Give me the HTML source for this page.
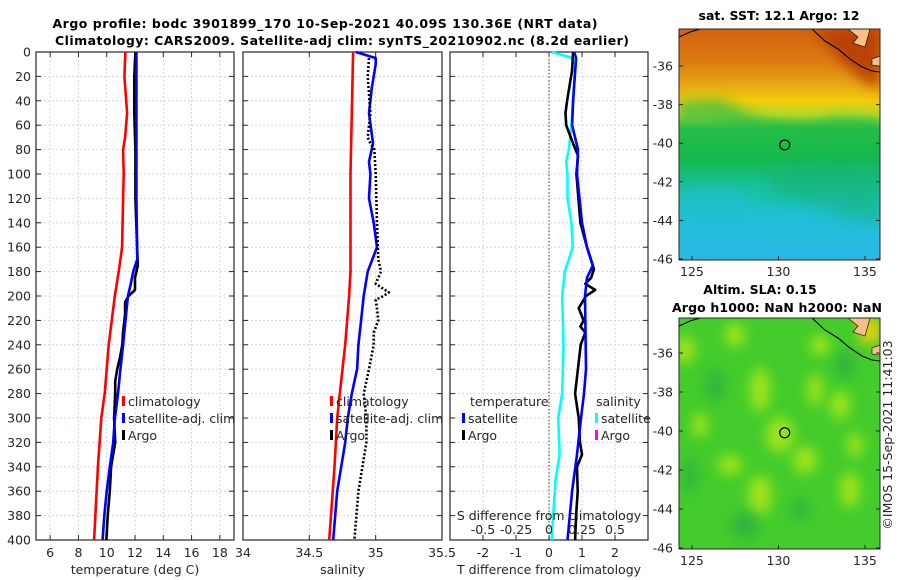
<!DOCTYPE html>
<html><head><meta charset="utf-8"><style>
html,body{margin:0;padding:0;background:#fff;width:900px;height:580px;overflow:hidden}
svg text{font-family:"DejaVu Sans","Liberation Sans",sans-serif;fill:#262626}
.b{font-weight:bold;fill:#000}
</style></head><body>
<svg id="fig" width="900" height="580" viewBox="0 0 900 580" xmlns="http://www.w3.org/2000/svg">
<defs>
<linearGradient id="sstg" x1="0" y1="0" x2="0" y2="1">
<stop offset="0" stop-color="#d06210"/><stop offset="0.14" stop-color="#dc7a12"/>
<stop offset="0.24" stop-color="#e8a814"/><stop offset="0.31" stop-color="#f2cc0a"/>
<stop offset="0.37" stop-color="#b8d828"/><stop offset="0.43" stop-color="#28c048"/>
<stop offset="0.56" stop-color="#14b84c"/><stop offset="0.68" stop-color="#18c098"/>
<stop offset="0.82" stop-color="#1cc4cc"/><stop offset="1" stop-color="#30b4ec"/>
</linearGradient>
<filter id="blur6" x="-100%" y="-100%" width="300%" height="300%"><feGaussianBlur stdDeviation="6"/></filter>
<clipPath id="cm1"><rect x="679" y="29" width="201" height="231"/></clipPath>
<clipPath id="cm2"><rect x="679" y="318" width="201" height="231"/></clipPath>
</defs>
<g id="titles">
<text class="b" x="325" y="28" font-size="12.5" text-anchor="middle" textLength="545">Argo profile: bodc 3901899_170 10-Sep-2021 40.09S 130.36E (NRT data)</text>
<text class="b" x="342" y="45" font-size="12.5" text-anchor="middle" textLength="574">Climatology: CARS2009. Satellite-adj clim: synTS_20210902.nc (8.2d earlier)</text>
<text class="b" x="779" y="20" font-size="12.5" text-anchor="middle">sat. SST: 12.1 Argo: 12</text>
<text class="b" x="760" y="294" font-size="12.5" text-anchor="middle">Altim. SLA: 0.15</text>
<text class="b" x="777" y="312" font-size="12.5" text-anchor="middle" textLength="210">Argo h1000: NaN h2000: NaN</text>
<text font-size="12.5" transform="translate(892,435) rotate(-90)" text-anchor="middle">©IMOS 15-Sep-2021 11:41:03</text>
</g>
<g id="panels"></g>
<g id="maps"></g>
</svg>
<script>
// ---- data ----
const tClimDepth=[0,20,50,70,80,100,120,160,180,200,240,280,300,340,400];
const tClimVal=[11.32,11.25,11.44,11.3,11.16,11.2,11.16,11.09,10.85,10.57,10.14,9.86,9.62,9.38,9.11];
const tSatDepth=[0,120,170,180,190,200,220,240,260,280,300,320,340,360,380,400];
const tSatVal=[12.1,12.1,12.16,11.87,11.7,11.5,11.33,11.16,10.97,10.8,10.58,10.46,10.22,10.0,9.83,9.71];
const tArgoDepth=[0,20,50,80,120,175,185,195,200,205,215,230,240,250,260,270,280,300,320,340,360,380,400];
const tArgoVal=[12.03,11.95,11.95,12.03,12.03,12.2,12.0,12.0,11.55,11.3,11.3,11.15,11.1,10.95,10.74,10.6,10.6,10.52,10.6,10.31,10.22,10.07,9.98];
const sClimDepth=[0,100,180,200,240,280,300,340,400];
const sClimVal=[34.83,34.81,34.81,34.80,34.77,34.73,34.71,34.69,34.65];
const sSatDepth=[0,5,10,30,50,75,90,100,120,140,160,180,200,220,240,260,280,300,320,340,360,400];
const sSatVal=[34.85,35.0,35.0,34.97,34.95,34.98,34.95,34.96,34.95,34.985,35.01,34.94,34.91,34.89,34.87,34.86,34.82,34.79,34.77,34.74,34.71,34.68];
const sArgoDepth=[5,20,50,60,70,75,80,100,140,170,180,190,195,197,200,203,210,220,230,240,260,280,300,320,340,360,380,400];
const sArgoVal=[34.95,34.94,34.96,34.95,34.94,34.96,34.99,35.0,35.01,35.02,35.04,35.0,35.07,35.1,35.06,35.0,35.01,35.02,34.985,34.985,34.95,34.91,34.93,34.93,34.90,34.87,34.855,34.84];
const dTSatDepth=[0,5,40,60,80,100,140,160,175,185,200,260,280,300,330,360,400];
const dTSatVal=[0.76,0.82,0.73,0.7,0.88,0.85,1.0,1.15,1.33,1.15,1.09,1.12,1.06,0.97,0.85,0.7,0.56];
const dTArgoDepth=[0,15,40,50,60,75,85,100,140,160,178,185,190,195,200,210,220,225,230,240,280,300,320,330,340,360,380,400];
const dTArgoVal=[0.73,0.7,0.55,0.5,0.52,0.73,0.88,0.83,0.95,1.15,1.36,1.28,1.1,1.4,1.12,0.9,1.05,0.95,1.1,0.96,0.79,0.9,0.94,1.0,0.85,0.87,0.82,0.79];
const dSSatDepth=[0,5,10,60,80,90,100,120,140,160,170,180,200,240,280,300,330,350,400];
const dSSatVal=[0.02,0.18,0.2,0.17,0.15,0.13,0.14,0.14,0.17,0.18,0.15,0.12,0.1,0.11,0.1,0.07,0.08,0.05,0.02];
const depthTicks=[0,20,40,60,80,100,120,140,160,180,200,220,240,260,280,300,320,340,360,380,400];
const tTicks=[6,8,10,12,14,16,18];
const sTicks=[34,34.5,35,35.5];
const sTickLabels=["34","34.5","35","35.5"];
const dTTicks=[-2,-1,0,1,2];
const dSTicks=[-0.5,-0.25,0,0.25,0.5];
const dSTickLabels=["-0.5","-0.25","0","0.25","0.5"];
const latTicks=[-36,-38,-40,-42,-44,-46];
const lonTicks=[125,130,135];
const argoLon=130.36, argoLat=-40.09;

// ---- scales ----
const Y0=52,Y1=540;
const yD=d=>Y0+d*(Y1-Y0)/400;
const P1={x0:36,x1:234,lo:5,hi:19}, P2={x0:243,x1:442,lo:34,hi:35.5}, P3={x0:450,x1:648,lo:-3,hi:3};
const sc=(p,v)=>p.x0+(v-p.lo)*(p.x1-p.x0)/(p.hi-p.lo);
const xT=v=>sc(P1,v), xS=v=>sc(P2,v), xDT=v=>sc(P3,v), xDS=v=>sc(P3,v*4);
const NS="http://www.w3.org/2000/svg";
function mk(parent,tag,attrs){const e=document.createElementNS(NS,tag);for(const k in attrs)e.setAttribute(k,attrs[k]);parent.appendChild(e);return e;}
const G=document.getElementById('panels');

function panel(p,name,xticks,xlabels,xfn,xtitle,showY){
  const g=mk(G,'g',{});
  
  
  xticks.forEach((t,i)=>{const x=xfn(t);
    const gl=mk(g,'line',{x1:x,x2:x,y1:Y0,y2:Y1,stroke:'#c8cce8','stroke-width':0.8,'stroke-dasharray':'2 2'});
    
    
    mk(g,'line',{x1:x,x2:x,y1:Y1,y2:Y1-5,stroke:'#262626','stroke-width':1});
    mk(g,'line',{x1:x,x2:x,y1:Y0,y2:Y0+5,stroke:'#262626','stroke-width':1});
    const tx=mk(g,'text',{x:x,y:Y1+17,'font-size':12.5,'text-anchor':'middle'});tx.textContent=xlabels[i];
    
    
  });
  depthTicks.forEach(d=>{const y=yD(d);
    const gl=mk(g,'line',{x1:p.x0,x2:p.x1,y1:y,y2:y,stroke:'#c8cce8','stroke-width':0.8,'stroke-dasharray':'2 2'});
    
    
    mk(g,'line',{x1:p.x0,x2:p.x0+5,y1:y,y2:y,stroke:'#262626'});
    mk(g,'line',{x1:p.x1,x2:p.x1-5,y1:y,y2:y,stroke:'#262626'});
    if(showY){const tx=mk(g,'text',{x:p.x0-5,y:y+4.5,'font-size':12.5,'text-anchor':'end'});tx.textContent=d;
      
      }
  });
  const fr=mk(g,'rect',{x:p.x0,y:Y0,width:p.x1-p.x0,height:Y1-Y0,fill:'none',stroke:'#262626','stroke-width':1.2});
  
  
  const xt=mk(g,'text',{x:(p.x0+p.x1)/2,y:Y1+34,'font-size':12.5,'text-anchor':'middle'});xt.textContent=xtitle;
  
  
  return g;
}
function line(g,depths,vals,xfn,color,name,dash){
  const pts=depths.map((d,i)=>xfn(vals[i]).toFixed(1)+','+yD(d).toFixed(1)).join(' ');
  const a={points:pts,fill:'none',stroke:color,'stroke-width':2.6,'stroke-linejoin':'round'};
  if(dash)a['stroke-dasharray']=dash;
  const e=mk(g,'polyline',a);
  
  
}
function legend(g,x,y,color,label,name){
  mk(g,'rect',{x:x-3,y:y-10,width:3,height:10,fill:color});
  const t=mk(g,'text',{x:x+3,y:y,'font-size':12.5});t.textContent=label;
  
  
}
const g1=panel(P1,'temperature-panel',tTicks,tTicks.map(String),xT,'temperature (deg C)',true);
line(g1,tClimDepth,tClimVal,xT,'#ff0000','temperature-climatology-line');
line(g1,tArgoDepth,tArgoVal,xT,'#000000','temperature-argo-line');
line(g1,tSatDepth,tSatVal,xT,'#0000ff','temperature-satellite-line');
legend(g1,125,406,'#ff0000','climatology','legend-climatology');
legend(g1,125,423,'#0000ff','satellite-adj. clim','legend-satellite');
legend(g1,125,440,'#000000','Argo','legend-argo');

const g2=panel(P2,'salinity-panel',sTicks,sTickLabels,xS,'salinity',false);
line(g2,sClimDepth,sClimVal,xS,'#ff0000','salinity-climatology-line');
line(g2,sSatDepth,sSatVal,xS,'#0000ff','salinity-satellite-line');
line(g2,sArgoDepth,sArgoVal,xS,'#000000','salinity-argo-line','2 2');
legend(g2,333,406,'#ff0000','climatology','legend-climatology');
legend(g2,333,423,'#0000ff','satellite-adj. clim','legend-satellite');
legend(g2,333,440,'#000000','Argo','legend-argo');

const g3=panel(P3,'difference-panel',dTTicks,dTTicks.map(String),xDT,'T difference from climatology',false);
mk(g3,'line',{x1:xDT(0),x2:xDT(0),y1:Y0,y2:Y1,stroke:'#556b2f','stroke-width':1.2,'stroke-dasharray':'1.5 2'});
line(g3,dSSatDepth,dSSatVal,xDS,'#00ffff','salinity-diff-satellite-line');
line(g3,dTArgoDepth,dTArgoVal,xDT,'#000000','temperature-diff-argo-line');
line(g3,dTSatDepth,dTSatVal,xDT,'#0000ff','temperature-diff-satellite-line');
{const t=mk(g3,'text',{x:470,y:406,'font-size':12.5});t.textContent='temperature';
 
 
 const s=mk(g3,'text',{x:596,y:406,'font-size':12.5});s.textContent='salinity';
 
 }
legend(g3,465,423,'#0000ff','satellite','legend-t-satellite');
legend(g3,465,440,'#000000','Argo','legend-t-argo');
legend(g3,598,423,'#00ffff','satellite','legend-s-satellite');
legend(g3,598,440,'#ff00ff','Argo','legend-s-argo');
{const t=mk(g3,'text',{x:549,y:520,'font-size':12.5,'text-anchor':'middle'});t.textContent='S difference from climatology';
 
 
 dSTicks.forEach((v,i)=>{const x=xDS(v);
  mk(g3,'line',{x1:x,x2:x,y1:Y1,y2:Y1-4,stroke:'#262626'});
  const tx=mk(g3,'text',{x:x,y:534,'font-size':12.5,'text-anchor':'middle'});tx.textContent=dSTickLabels[i];
  
  });}

// ---- maps ----
const M=document.getElementById('maps');
const lonX=lon=>679+(lon-124.25)*17.3;
function map(top,h,yfn,name,kind,clip){
  const g=mk(M,'g',{});
  
  
  const inner=mk(g,'g',{'clip-path':'url(#'+clip+')'});
  if(kind==='sst'){
    mk(inner,'rect',{x:679,y:29,width:201,height:231,fill:'url(#sstg)'});
    mk(inner,'polygon',{points:'815,29 880,29 880,90 860,80 840,60',fill:'#b03204',opacity:0.75,filter:'url(#blur6)'});
    mk(inner,'polygon',{points:'679,100 720,98 760,118 800,126 840,116 880,120 880,140 820,142 760,132 700,122 679,124',fill:'#20b848',opacity:0.6,filter:'url(#blur6)'});
    mk(inner,'polygon',{points:'679,190 730,185 760,210 800,205 840,195 880,205 880,260 679,260',fill:'#28bce0',opacity:0.5,filter:'url(#blur6)'});
    mk(inner,'polygon',{points:'770,170 820,165 880,170 880,225 840,215 800,200 775,195',fill:'#18b070',opacity:0.5,filter:'url(#blur6)'});
  } else {
    mk(inner,'rect',{x:679,y:top,width:201,height:h,fill:'#44cc2c'});
    [[685,350,10,14],[735,335,10,12],[760,390,10,22],[780,435,14,18],[815,390,8,16],[760,495,12,20],[840,405,10,14],[805,460,12,14],[850,490,10,18],[700,425,8,12],[730,465,12,10],[855,445,8,12],[820,345,10,10]].forEach(b=>
      mk(inner,'ellipse',{cx:b[0],cy:b[1],rx:b[2],ry:b[3],fill:'#b4ea18',opacity:0.8,filter:'url(#blur6)'}));
    [[715,385,10,16],[745,525,14,14],[690,475,8,18],[800,510,10,10],[845,365,10,14]].forEach(b=>
      mk(inner,'ellipse',{cx:b[0],cy:b[1],rx:b[2],ry:b[3],fill:'#24a848',opacity:0.6,filter:'url(#blur6)'}));
    mk(inner,'rect',{x:860,y:top,width:20,height:25,fill:'#e8d010',filter:'url(#blur6)'});
  }
  const o=top;
  mk(inner,'path',{d:`M679,${o+8} L690,${o+3} L700,${o} M812,${o} L825,${o+12} L838,${o+20} L850,${o+30} L862,${o+38} L872,${o+42} L880,${o+43}`,fill:'none',stroke:'#000','stroke-width':1.1});
  mk(inner,'path',{d:`M848,${o} L858,${o+8} L853,${o+14} L865,${o+18} L870,${o} Z M872,${o+30} L880,${o+27} L880,${o+37} L872,${o+36} Z`,fill:'#f8c088',stroke:'#000','stroke-width':0.6});
  const fr=mk(g,'rect',{x:679,y:top,width:201,height:h,fill:'none',stroke:'#262626','stroke-width':1});
  
  
  const bottom=top+h;
  latTicks.forEach(l=>{const y=yfn(l);
    mk(g,'line',{x1:679,x2:683,y1:y,y2:y,stroke:'#262626'});
    mk(g,'line',{x1:876,x2:880,y1:y,y2:y,stroke:'#262626'});
    const t=mk(g,'text',{x:673,y:y+4.5,'font-size':12.5,'text-anchor':'end'});t.textContent=l;
    
    });
  lonTicks.forEach(l=>{const x=lonX(l);
    mk(g,'line',{x1:x,x2:x,y1:bottom,y2:bottom-4,stroke:'#262626'});
    const t=mk(g,'text',{x:x,y:bottom+16,'font-size':12.5,'text-anchor':'middle'});t.textContent=l;
    
    });
  const c=mk(g,'circle',{cx:lonX(argoLon),cy:yfn(argoLat),r:5,fill:'none',stroke:'#000','stroke-width':1.2});
  
  
}
map(29,231,lat=>66+(-36-lat)*19.3,'sst-map','sst','cm1');
map(318,231,lat=>353+(-36-lat)*19.5,'sla-map','sla','cm2');
</script>
</body></html>
